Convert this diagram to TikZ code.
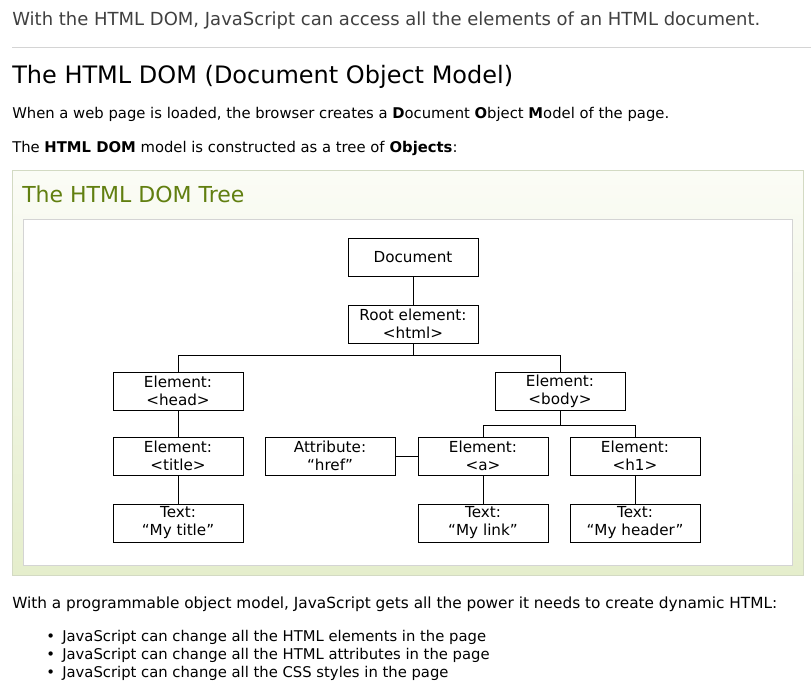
\documentclass[tikz,border=0pt]{standalone}
\usepackage{fontspec}
\setmainfont{DejaVu Sans}
\usepackage{tikz}
\usetikzlibrary{positioning}
\definecolor{leadgray}{HTML}{404040}
\definecolor{rulegray}{HTML}{D4D4D4}
\definecolor{treegreen}{HTML}{617F10}
\definecolor{panetop}{HTML}{FBFCF6}
\definecolor{panebot}{HTML}{E5EECC}
\definecolor{paneline}{HTML}{D3DAC3}

\begin{document}
\begin{tikzpicture}[x=0.75pt,y=-0.75pt,
    every node/.style={inner sep=0pt},
    txt/.style={anchor=base west,font=\fontsize{11.1}{13}\selectfont},
    dom/.style={draw,line width=0.75pt,minimum width=97.5pt,minimum height=28.5pt,
      align=center,font=\fontsize{11.4}{13.5}\selectfont},
    link/.style={line width=0.75pt}]
    \useasboundingbox (0,0) rectangle (811,683);

    % Kopfzeilen
    \node[txt,text=leadgray,font=\fontsize{13.5}{15}\selectfont] (lead) at (12,25)
      {With the HTML DOM, JavaScript can access all the elements of an HTML document.};
    \draw[rulegray,line width=0.75pt] (12,47.5) -- (811,47.5);
    \node[txt,font=\fontsize{18}{20}\selectfont] (heading) at (12,83)
      {The HTML DOM (Document Object Model)};
    \node[txt] (intro1) at (12,118)
      {When a web page is loaded, the browser creates a \textbf{D}ocument \textbf{O}bject \textbf{M}odel of the page.};
    \node[txt] (intro2) at (12,152)
      {The \textbf{HTML DOM} model is constructed as a tree of \textbf{Objects}:};

    % Kasten
    \shade[top color=panetop,bottom color=panebot] (12,170) rectangle (803,575);
    \draw[paneline,line width=0.75pt] (12,170) rectangle (803,575);
    \node[txt,text=treegreen,font=\fontsize{16.5}{20}\selectfont] (treetitle) at (22,202) {The HTML DOM Tree};
    \draw[rulegray,line width=0.75pt,fill=white] (23,219) rectangle (792,565);

    % Knoten
    \node[dom] (doc) at (413,257) {Document};
    \node[dom] (root) at (413,324) {Root element:\\<html>};
    \node[dom] (ehead) at (178,391) {Element:\\<head>};
    \node[dom] (ebody) at (560,391) {Element:\\<body>};
    \node[dom] (etitle) at (178,456) {Element:\\<title>};
    \node[dom] (href) at (330,456) {Attribute:\\“href”};
    \node[dom] (ea) at (483,456) {Element:\\<a>};
    \node[dom] (eh1) at (635,456) {Element:\\<h1>};
    \node[dom] (ttitle) at (178,523) {Text:\\“My title”};
    \node[dom] (tlink) at (483,523) {Text:\\“My link”};
    \node[dom] (theader) at (635,523) {Text:\\“My header”};

    % Kanten
    \draw[link] (doc) -- (root);
    \draw[link] (root.south) -- ++(0,12) -| (ehead.north);
    \draw[link] (root.south) -- ++(0,12) -| (ebody.north);
    \draw[link] (ehead) -- (etitle);
    \draw[link] (etitle) -- (ttitle);
    \draw[link] (ebody.south) -- ++(0,15) -| (ea.north);
    \draw[link] (ebody.south) -- ++(0,15) -| (eh1.north);
    \draw[link] (href) -- (ea);
    \draw[link] (ea) -- (tlink);
    \draw[link] (eh1) -- (theader);

    % Fusszeilen
    \node[txt,font=\fontsize{11.5}{13}\selectfont] (outro) at (12,608)
      {With a programmable object model, JavaScript gets all the power it needs to create dynamic HTML:};
    \node[txt] (dot1) at (46,641) {•};
    \node[txt] (item1) at (62,641) {JavaScript can change all the HTML elements in the page};
    \node[txt] (dot2) at (46,659) {•};
    \node[txt] (item2) at (62,659) {JavaScript can change all the HTML attributes in the page};
    \node[txt] (dot3) at (46,677) {•};
    \node[txt] (item3) at (62,677) {JavaScript can change all the CSS styles in the page};
\end{tikzpicture}
\end{document}
